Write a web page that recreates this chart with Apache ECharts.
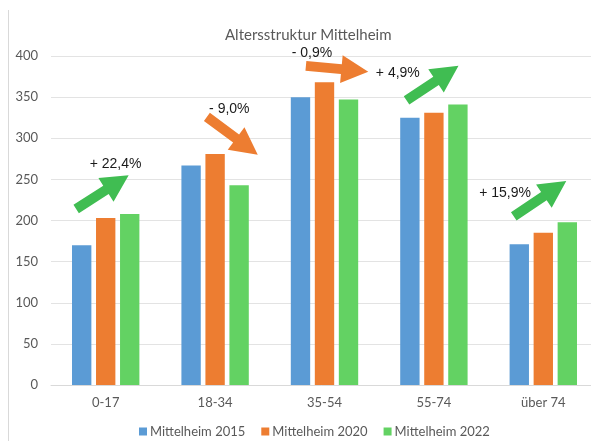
<!DOCTYPE html>
<html>
<head>
    <meta charset="utf-8">
    <title>Altersstruktur Mittelheim</title>
    <script src="https://cdn.jsdelivr.net/npm/echarts@6/dist/echarts.min.js"></script>
    <style>
        html, body { margin: 0; padding: 0; background: #fff; }
        #main { width: 591px; height: 441px; }
    </style>
</head>
<body>
<div id="main"></div>
<script type="text/javascript">
    // Daten
    var categories = ['0-17', '18-34', '35-54', '55-74', 'über 74'];
    var seriesNames = ['Mittelheim 2015', 'Mittelheim 2020', 'Mittelheim 2022'];
    var y2015 = [170, 267, 350, 325, 171];
    var y2020 = [203, 281, 368, 331, 185];
    var y2022 = [208, 243, 347, 341, 198];
    var yMin = 0, yMax = 400, yStep = 50;
    var changeLabels = ['+ 22,4%', '- 9,0%', '- 0,9%', '+ 4,9%', '+ 15,9%'];

    var colors = ['#5b9bd5', '#ed7d31', '#63d263'];
    var arrowGreen = '#40bd52', arrowOrange = '#ed7d31';

    // Pfeile: Kategorie, Versatz in Bandbreite, Wert (Start/Spitze), Text-Position
    var arrows = [
        {cat: 0, from: [-0.27, 214], to: [0.21, 255], text: [0.09, 269], color: arrowGreen},
        {cat: 1, from: [-0.075, 326], to: [0.39, 280], text: [0.13, 335], color: arrowOrange},
        {cat: 2, from: [-0.17, 388], to: [0.40, 381], text: [-0.115, 403], color: arrowOrange},
        {cat: 3, from: [-0.25, 346], to: [0.225, 388], text: [-0.33, 379], color: arrowGreen},
        {cat: 4, from: [-0.27, 205], to: [0.21, 248], text: [-0.35, 233], color: arrowGreen}
    ];

    var myChart = echarts.init(document.getElementById('main'));
    var font = 'Lato';

    function barSeries(name, data, color) {
        return {
            name: name,
            type: 'bar',
            data: data,
            barWidth: '17.7%',
            barGap: '24%',
            itemStyle: {color: color},
            emphasis: {disabled: true}
        };
    }

    var option = {
        animation: false,
        title: {
            text: 'Altersstruktur Mittelheim',
            left: 220,
            top: 23,
            textStyle: {fontFamily: font, fontSize: 15, fontWeight: 'normal', color: '#595959'}
        },
        legend: {
            data: seriesNames,
            left: 139,
            top: 425,
            padding: 0,
            itemWidth: 8,
            itemHeight: 8,
            itemGap: 16,
            icon: 'rect',
            textStyle: {fontFamily: font, fontSize: 13, color: '#595959', padding: [0, 0, 0, -2]}
        },
        grid: {left: 51, right: -7, top: 56, bottom: 56, containLabel: false, outerBoundsMode: 'none'},
        xAxis: {
            type: 'category',
            data: categories,
            axisTick: {show: false},
            axisLine: {lineStyle: {color: '#d9d9d9'}},
            axisLabel: {fontFamily: font, fontSize: 13, color: '#595959', margin: 11}
        },
        yAxis: {
            type: 'value',
            min: yMin,
            max: yMax,
            interval: yStep,
            axisLine: {show: false},
            axisTick: {show: false},
            splitLine: {lineStyle: {color: '#e3e3e3'}},
            axisLabel: {fontFamily: font, fontSize: 13, color: '#595959', margin: 13}
        },
        series: [
            barSeries(seriesNames[0], y2015, colors[0]),
            barSeries(seriesNames[1], y2020, colors[1]),
            barSeries(seriesNames[2], y2022, colors[2])
        ]
    };
    myChart.setOption(option);

    // Pfeile + Prozenttexte aus Datenkoordinaten
    var band = myChart.convertToPixel({gridIndex: 0}, [1, 0])[0] - myChart.convertToPixel({gridIndex: 0}, [0, 0])[0];
    function toPx(cat, p) {
        var c = myChart.convertToPixel({gridIndex: 0}, [cat, p[1]]);
        return [c[0] + p[0] * band, c[1]];
    }
    function arrowPoints(t, p) {
        var dx = p[0] - t[0], dy = p[1] - t[1];
        var len = Math.sqrt(dx * dx + dy * dy);
        var ux = dx / len, uy = dy / len;
        var nx = -uy, ny = ux;
        var w = 5, h = 14, L = 27;
        var bx = p[0] - ux * L, by = p[1] - uy * L;
        return [
            [t[0] + nx * w, t[1] + ny * w],
            [bx + nx * w, by + ny * w],
            [bx + nx * h, by + ny * h],
            [p[0], p[1]],
            [bx - nx * h, by - ny * h],
            [bx - nx * w, by - ny * w],
            [t[0] - nx * w, t[1] - ny * w]
        ];
    }
    var graphics = [{
        type: 'line',
        shape: {x1: 8.5, y1: 10, x2: 8.5, y2: 441},
        style: {stroke: '#d9d9d9', lineWidth: 1}
    }];
    for (var i = 0; i < arrows.length; i++) {
        var a = arrows[i];
        graphics.push({
            type: 'polygon',
            shape: {points: arrowPoints(toPx(a.cat, a.from), toPx(a.cat, a.to))},
            style: {fill: a.color}
        });
        var tp = toPx(a.cat, a.text);
        graphics.push({
            type: 'text',
            x: tp[0],
            y: tp[1],
            style: {
                text: changeLabels[i],
                fill: '#1a1a1a',
                font: '14px "Liberation Sans Narrow", "Liberation Sans", Arial, sans-serif',
                align: 'center',
                verticalAlign: 'middle'
            }
        });
    }
    myChart.setOption({graphic: graphics});
</script>
</body>
</html>
